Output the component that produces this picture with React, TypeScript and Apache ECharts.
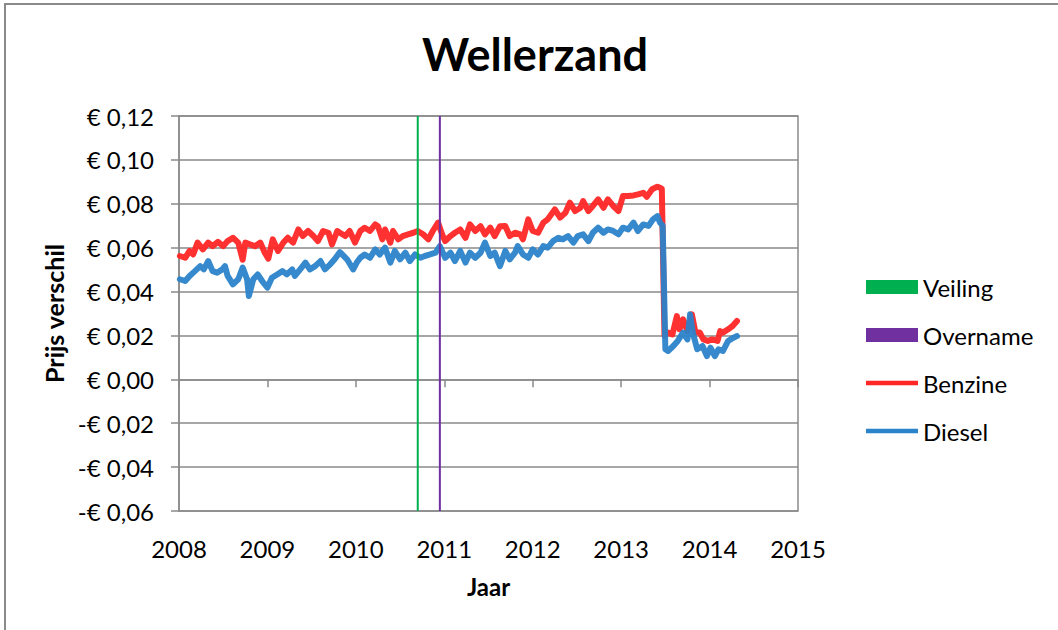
import React, { useEffect, useRef } from 'react';
import * as echarts from 'echarts';

const TITLE = 'Wellerzand';
const X_NAME = 'Jaar';
const Y_NAME = 'Prijs verschil';
const X_MIN = 2008;
const X_MAX = 2015;
const Y_MIN = -0.06;
const Y_MAX = 0.12;
const Y_STEP = 0.02;

const veilingYear = 2010.7;
const overnameYear = 2010.95;

const benzine: [number, number][] = [
  [2008.01, 0.0562], [2008.07, 0.0554], [2008.12, 0.0585], [2008.16, 0.0569], [2008.21, 0.0623],
  [2008.27, 0.0592], [2008.33, 0.0623], [2008.38, 0.0607], [2008.44, 0.0626], [2008.5, 0.0607],
  [2008.55, 0.063], [2008.61, 0.0645], [2008.67, 0.0623], [2008.72, 0.0545], [2008.75, 0.0623],
  [2008.8, 0.0615], [2008.86, 0.0607], [2008.92, 0.0623], [2008.97, 0.0577], [2009.01, 0.055],
  [2009.06, 0.0638], [2009.12, 0.0585], [2009.18, 0.0623], [2009.23, 0.0645], [2009.29, 0.0623],
  [2009.35, 0.0683], [2009.4, 0.0653], [2009.46, 0.0676], [2009.52, 0.0653], [2009.57, 0.063],
  [2009.63, 0.0676], [2009.69, 0.0668], [2009.73, 0.0615], [2009.79, 0.0676], [2009.82, 0.0668],
  [2009.88, 0.0653], [2009.93, 0.0676], [2009.99, 0.0623], [2010.05, 0.0676], [2010.1, 0.0691],
  [2010.16, 0.0676], [2010.22, 0.0706], [2010.25, 0.0698], [2010.3, 0.0638], [2010.33, 0.0683],
  [2010.39, 0.0623], [2010.42, 0.0676], [2010.48, 0.0638], [2010.53, 0.0653], [2010.59, 0.0661],
  [2010.65, 0.0668], [2010.7, 0.0676], [2010.76, 0.0661], [2010.82, 0.0638], [2010.87, 0.0676],
  [2010.93, 0.0714], [2010.975, 0.0661], [2011.01, 0.063], [2011.07, 0.0653], [2011.12, 0.0668],
  [2011.18, 0.0683], [2011.24, 0.0645], [2011.29, 0.0706], [2011.35, 0.0676], [2011.41, 0.0698],
  [2011.46, 0.0661], [2011.52, 0.0691], [2011.57, 0.0653], [2011.63, 0.0698], [2011.69, 0.0699],
  [2011.74, 0.0653], [2011.8, 0.0668], [2011.86, 0.0661], [2011.89, 0.0638], [2011.95, 0.0729],
  [2012.0, 0.0676], [2012.06, 0.0668], [2012.12, 0.0714], [2012.17, 0.0729], [2012.25, 0.0774],
  [2012.31, 0.0737], [2012.37, 0.0759], [2012.42, 0.0805], [2012.48, 0.0767], [2012.54, 0.0782],
  [2012.57, 0.0812], [2012.63, 0.0767], [2012.68, 0.079], [2012.74, 0.082], [2012.8, 0.0782],
  [2012.85, 0.082], [2012.91, 0.079], [2012.97, 0.0767], [2013.02, 0.0835], [2013.08, 0.0835],
  [2013.14, 0.0838], [2013.19, 0.0843], [2013.25, 0.085], [2013.29, 0.0832], [2013.35, 0.0866],
  [2013.41, 0.0878], [2013.44, 0.0873], [2013.46, 0.0868], [2013.49, 0.02], [2013.53, 0.0213],
  [2013.58, 0.0205], [2013.63, 0.0288], [2013.66, 0.0228], [2013.7, 0.0273], [2013.75, 0.022],
  [2013.8, 0.0296], [2013.84, 0.0213], [2013.89, 0.0213], [2013.93, 0.0182], [2013.98, 0.0175],
  [2014.03, 0.0182], [2014.09, 0.0175], [2014.12, 0.022], [2014.15, 0.0213], [2014.21, 0.0228],
  [2014.26, 0.0243], [2014.31, 0.0266],
];

const diesel: [number, number][] = [
  [2008.01, 0.0456], [2008.07, 0.0448], [2008.12, 0.0471], [2008.18, 0.0493], [2008.24, 0.0516],
  [2008.28, 0.0501], [2008.33, 0.0539], [2008.38, 0.0493], [2008.43, 0.0486], [2008.49, 0.0501],
  [2008.52, 0.0516], [2008.55, 0.0471], [2008.61, 0.0433], [2008.67, 0.0456], [2008.72, 0.0509],
  [2008.77, 0.0456], [2008.79, 0.038], [2008.84, 0.0456], [2008.89, 0.0478], [2008.94, 0.0448],
  [2009.0, 0.0418], [2009.05, 0.0463], [2009.11, 0.0478], [2009.17, 0.0493], [2009.22, 0.0478],
  [2009.28, 0.0501], [2009.31, 0.0471], [2009.37, 0.0501], [2009.43, 0.0532], [2009.48, 0.0501],
  [2009.54, 0.0516], [2009.6, 0.0539], [2009.65, 0.0501], [2009.71, 0.0524], [2009.76, 0.0547],
  [2009.82, 0.058], [2009.9, 0.0547], [2009.97, 0.0501], [2010.01, 0.0532], [2010.05, 0.0554],
  [2010.1, 0.0569], [2010.16, 0.0554], [2010.22, 0.0592], [2010.27, 0.0569], [2010.33, 0.06],
  [2010.39, 0.0532], [2010.44, 0.0585], [2010.5, 0.0547], [2010.56, 0.0577], [2010.61, 0.0539],
  [2010.67, 0.0569], [2010.73, 0.0554], [2010.78, 0.0562], [2010.84, 0.0569], [2010.9, 0.0577],
  [2010.95, 0.0607], [2011.01, 0.0554], [2011.07, 0.0577], [2011.12, 0.0539], [2011.18, 0.0585],
  [2011.24, 0.0532], [2011.29, 0.0577], [2011.35, 0.0554], [2011.41, 0.0577], [2011.46, 0.0623],
  [2011.52, 0.0562], [2011.57, 0.0577], [2011.63, 0.0516], [2011.69, 0.0585], [2011.74, 0.0547],
  [2011.8, 0.0577], [2011.83, 0.0607], [2011.89, 0.0569], [2011.95, 0.0554], [2012.0, 0.0592],
  [2012.06, 0.0569], [2012.12, 0.0607], [2012.17, 0.06], [2012.23, 0.063], [2012.29, 0.0645],
  [2012.34, 0.0638], [2012.4, 0.0653], [2012.46, 0.0623], [2012.51, 0.0653], [2012.57, 0.0661],
  [2012.63, 0.063], [2012.68, 0.0668], [2012.74, 0.0691], [2012.8, 0.0668], [2012.85, 0.0683],
  [2012.91, 0.0676], [2012.97, 0.0661], [2013.02, 0.0691], [2013.08, 0.0683], [2013.14, 0.0714],
  [2013.19, 0.0676], [2013.25, 0.0706], [2013.31, 0.0699], [2013.36, 0.0729], [2013.41, 0.0744],
  [2013.44, 0.0714], [2013.47, 0.07], [2013.5, 0.0137], [2013.53, 0.0129], [2013.59, 0.0152],
  [2013.64, 0.0175], [2013.7, 0.0213], [2013.75, 0.0182], [2013.78, 0.0296], [2013.81, 0.0213],
  [2013.86, 0.0137], [2013.92, 0.0152], [2013.97, 0.0106], [2014.01, 0.0144], [2014.06, 0.0106],
  [2014.1, 0.0137], [2014.15, 0.0129], [2014.21, 0.0175], [2014.27, 0.019], [2014.31, 0.0197],
];

const FONT = 'Lato, "Noto Sans", sans-serif';
const GRID_COLOR = '#8a8a8a';
const GREEN = '#00b050';
const PURPLE = '#7030a0';
const RED = '#ff2626';
const BLUE = '#2b83c9';
const LINE_ICON = 'path://M0,0H110V10H0Z';

function euro(v: number): string {
  const r = Math.round(v * 100) / 100;
  const s = Math.abs(r).toFixed(2).replace('.', ',');
  return r < 0 ? '-€ ' + s : '€ ' + s;
}

export default function App() {
  const ref = useRef<HTMLDivElement>(null);

  useEffect(() => {
    if (!ref.current) return;
    const chart = echarts.init(ref.current, null, { renderer: 'svg' });
    const axisLineStyle = { color: GRID_COLOR, width: 1.5 };
    chart.setOption({
      animation: false,
      backgroundColor: '#ffffff',
      graphic: [
        {
          type: 'rect',
          shape: { x: 5, y: 4, width: 1200, height: 800 },
          style: { fill: 'none', stroke: GRID_COLOR, lineWidth: 2 },
          silent: true,
        },
        {
          type: 'text',
          x: 535,
          y: 54,
          style: {
            text: TITLE,
            fontFamily: FONT,
            fontSize: 45,
            fontWeight: 'bold',
            fill: '#000',
            align: 'center',
            verticalAlign: 'middle',
          },
        },
      ],
      legend: {
        orient: 'vertical',
        left: 866,
        top: 275,
        padding: 0,
        itemWidth: 52,
        itemHeight: 14,
        itemGap: 24,
        textStyle: { fontFamily: FONT, fontSize: 24, color: '#000', lineHeight: 24 },
        data: [
          { name: 'Veiling', icon: 'rect', itemStyle: { color: GREEN, borderWidth: 0 } },
          { name: 'Overname', icon: 'rect', itemStyle: { color: PURPLE, borderWidth: 0 } },
          { name: 'Benzine', icon: LINE_ICON, itemStyle: { color: RED, borderWidth: 0 } },
          { name: 'Diesel', icon: LINE_ICON, itemStyle: { color: BLUE, borderWidth: 0 } },
        ],
      },
      grid: {
        left: 179,
        top: 116,
        width: 619,
        height: 395,
        show: true,
        borderColor: GRID_COLOR,
        borderWidth: 1.5,
        backgroundColor: 'transparent',
      },
      xAxis: [
        {
          type: 'value',
          min: X_MIN,
          max: X_MAX,
          interval: 1,
          axisLine: { show: false, onZero: false },
          axisTick: { show: false },
          splitLine: { show: false },
          axisLabel: {
            fontFamily: FONT,
            fontSize: 24,
            color: '#000',
            margin: 25,
            formatter: (v: number) => String(Math.round(v)),
          },
          name: X_NAME,
          nameLocation: 'middle',
          nameGap: 63,
          nameTextStyle: { fontFamily: FONT, fontSize: 24, fontWeight: 'bold', color: '#000' },
        },
        {
          type: 'value',
          min: X_MIN,
          max: X_MAX,
          interval: 1,
          position: 'bottom',
          axisLine: { show: true, onZero: true, lineStyle: axisLineStyle },
          axisTick: { show: true, length: 8, lineStyle: axisLineStyle },
          axisLabel: { show: false },
          splitLine: { show: false },
        },
      ],
      yAxis: {
        type: 'value',
        min: Y_MIN,
        max: Y_MAX,
        interval: Y_STEP,
        axisLine: { show: true, onZero: false, lineStyle: axisLineStyle },
        axisTick: { show: true, length: 8, lineStyle: axisLineStyle },
        splitLine: { show: true, lineStyle: axisLineStyle },
        axisLabel: {
          fontFamily: FONT,
          fontSize: 24,
          color: '#000',
          margin: 25,
          formatter: euro,
        },
        name: Y_NAME,
        nameLocation: 'middle',
        nameGap: 110,
        nameRotate: 90,
        nameTextStyle: { fontFamily: FONT, fontSize: 25, fontWeight: 'bold', color: '#000' },
      },
      series: [
        {
          name: 'Veiling',
          type: 'line',
          xAxisIndex: 0,
          data: [[veilingYear, Y_MIN], [veilingYear, Y_MAX]],
          symbol: 'none',
          z: 4,
          lineStyle: { color: GREEN, width: 2 },
          itemStyle: { color: GREEN },
        },
        {
          name: 'Overname',
          type: 'line',
          xAxisIndex: 0,
          data: [[overnameYear, Y_MIN], [overnameYear, Y_MAX]],
          symbol: 'none',
          z: 4,
          lineStyle: { color: PURPLE, width: 2 },
          itemStyle: { color: PURPLE },
        },
        {
          name: 'Benzine',
          type: 'line',
          xAxisIndex: 0,
          data: benzine,
          symbol: 'none',
          z: 2,
          lineStyle: { color: RED, width: 6, opacity: 0.95, join: 'round', cap: 'round' },
          itemStyle: { color: RED },
        },
        {
          name: 'Diesel',
          type: 'line',
          xAxisIndex: 0,
          data: diesel,
          symbol: 'none',
          z: 3,
          lineStyle: { color: BLUE, width: 6, opacity: 0.95, join: 'round', cap: 'round' },
          itemStyle: { color: BLUE },
        },
      ],
    });
    return () => chart.dispose();
  }, []);

  return (
    <div
      ref={ref}
      style={{ position: 'fixed', left: 0, top: 0, width: 1058, height: 630 }}
    />
  );
}
